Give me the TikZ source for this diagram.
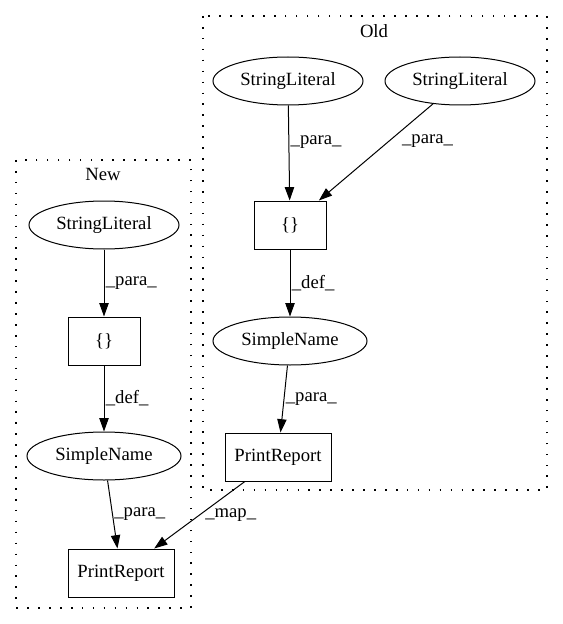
\documentclass[tikz,border=0pt]{standalone}
\usepackage{fontspec}
\setmainfont{Liberation Serif}
\usetikzlibrary{positioning,shapes.geometric,arrows.meta}

\tikzset{
  lit/.style={draw=black, ellipse, line width=0.75pt,
    minimum width=112.5pt, minimum height=36pt, inner sep=0pt,
    font=\fontsize{14}{16}\selectfont},
  codebox/.style={draw=black, rectangle, line width=0.75pt,
    minimum height=36pt, inner sep=0pt,
    font=\fontsize{14}{16}\selectfont},
  lbl/.style={anchor=west, inner sep=1pt, font=\fontsize{14}{16}\selectfont},
  cluster/.style={draw=black, line width=0.9pt, dash pattern=on 1.2pt off 7pt},
  flow/.style={line width=0.75pt, -{Triangle[length=10pt, width=7pt]}}
}

\begin{document}
\begin{tikzpicture}[x=0.75pt, y=-0.75pt]
        \useasboundingbox (0,0) rectangle (563,624);

        %clusters
        \draw[cluster] (203,16) rectangle (547,490);
        \node[font=\fontsize{14}{16}\selectfont] (old) at (374,31) {Old};
        \draw[cluster] (16,160) rectangle (191,608);
        \node[font=\fontsize{14}{16}\selectfont] (new) at (103,174) {New};

        %old
        \node[lit] (osl1) at (288,81) {StringLiteral};
        \node[lit] (osl2) at (460,81) {StringLiteral};
        \node[codebox, minimum width=54pt] (oarr) at (290,225) {\{\}};
        \node[lit, minimum width=115.5pt] (osn) at (290,341) {SimpleName};
        \node[codebox, minimum width=79.5pt] (opr) at (278,457) {PrintReport};

        %new
        \node[lit] (nsl) at (104,225) {StringLiteral};
        \node[codebox, minimum width=54pt] (narr) at (104,341) {\{\}};
        \node[lit, minimum width=115.5pt] (nsn) at (104,456) {SimpleName};
        \node[codebox, minimum width=79.5pt] (npr) at (121,573) {PrintReport};

        \path[flow]
            (osl1) edge node[lbl, pos=0.38] {\_para\_} (oarr)
            (osl2) edge node[lbl, pos=0.38, xshift=8pt] {\_para\_} (oarr)
            (oarr) edge node[lbl, pos=0.5] {\_def\_} (osn)
            (osn) edge node[lbl, pos=0.5] {\_para\_} (opr)

            (nsl) edge node[lbl, pos=0.5] {\_para\_} (narr)
            (narr) edge node[lbl, pos=0.5] {\_def\_} (nsn)
            (nsn) edge node[lbl, pos=0.5] {\_para\_} (npr)

            %between old and new
            (opr) edge node[lbl, pos=0.5, xshift=3pt] {\_map\_} (npr)
            ;
\end{tikzpicture}
\end{document}
